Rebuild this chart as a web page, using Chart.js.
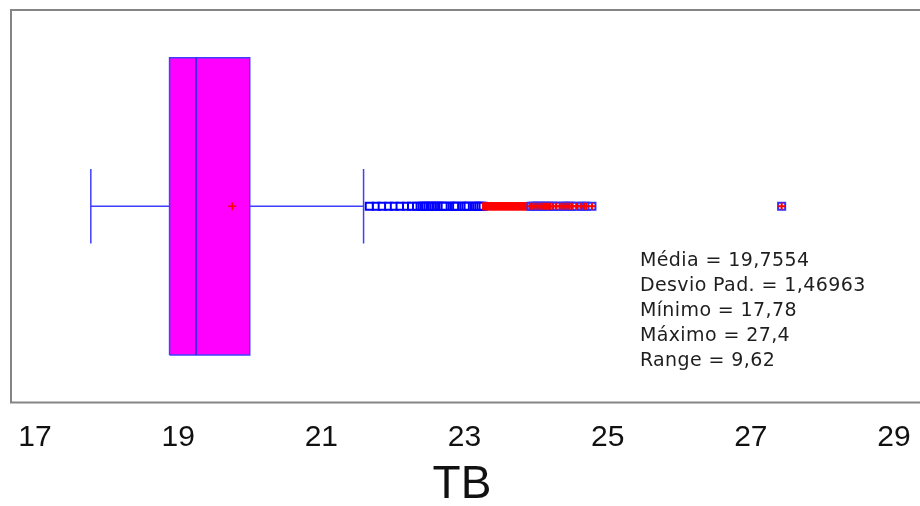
<!DOCTYPE html>
<html>
<head>
<meta charset="utf-8">
<script src="https://cdn.jsdelivr.net/npm/chart.js@4.4.0/dist/chart.umd.min.js"></script>
<style>
    html, body { margin: 0; padding: 0; background: #fff; }
    #wrap { width: 920px; height: 506px; }
</style>
</head>
<body>
<div id="wrap"><canvas id="chart"></canvas></div>
<script>
const axisTitle = "TB"
const xTicks = [17, 19, 21, 23, 25, 27, 29]

// box summary
const whiskerLow = 17.78
const q1 = 18.88
const median = 19.25
const q3 = 20.0
const whiskerHigh = 21.59
const mean = 19.7554

// outliers (blue open squares, then the red ones)
const mildOutliers = [21.67, 21.77, 21.85, 21.94, 22.02, 22.10, 22.19, 22.26, 22.33, 22.38,
    22.41, 22.44, 22.46, 22.49, 22.52, 22.54, 22.57, 22.60, 22.62, 22.65, 22.68, 22.70,
    22.73, 22.80, 22.83, 22.86, 22.89, 22.96, 22.99, 23.02, 23.05, 23.11, 23.14, 23.17,
    23.20, 23.23, 23.26]
const denseOutliers = [23.30, 23.33, 23.36, 23.39, 23.42, 23.45, 23.48, 23.51, 23.54, 23.57,
    23.60, 23.63, 23.66, 23.69, 23.72, 23.75, 23.78, 23.81, 23.84, 23.87, 23.90]
const farOutliers = [23.93, 23.96, 23.99, 24.02, 24.05, 24.08, 24.11, 24.14, 24.17, 24.20,
    24.24, 24.28, 24.33, 24.38, 24.41, 24.44, 24.47, 24.50, 24.56, 24.63, 24.67, 24.70,
    24.78, 27.43]

const statLabels = ["Média", "Desvio Pad.", "Mínimo", "Máximo", "Range"]
const statValues = ["19,7554", "1,46963", "17,78", "27,4", "9,62"]

const boxHalf = 0.757
const capHalf = 0.19
const blue = "#3f3fff"

function seg(x1, y1, x2, y2, color, width, order) {
    return {
        data: [{ x: x1, y: y1 }, { x: x2, y: y2 }],
        showLine: true,
        borderColor: color,
        borderWidth: width,
        pointRadius: 0,
        fill: false,
        order: order,
    }
}

function points(values, style) {
    return Object.assign({
        data: values.map(v => ({ x: v, y: 0 })),
        showLine: false,
    }, style)
}

const frame = {
    id: "frame",
    afterDraw(chart) {
        const { ctx, chartArea: a } = chart
        ctx.save()
        ctx.strokeStyle = "#858585"
        ctx.lineWidth = 2
        ctx.beginPath()
        ctx.moveTo(chart.width, a.top)
        ctx.lineTo(a.left, a.top)
        ctx.lineTo(a.left, a.bottom)
        ctx.lineTo(chart.width, a.bottom)
        ctx.stroke()
        ctx.restore()
    }
}

const stats = {
    id: "stats",
    afterDraw(chart) {
        const { ctx, chartArea: a } = chart
        const x = chart.scales.x.getPixelForValue(25.45)
        ctx.save()
        ctx.font = '19px "DejaVu Sans"'
        ctx.letterSpacing = "0.4px"
        ctx.fillStyle = "#1e1e1e"
        ctx.textBaseline = "middle"
        statLabels.forEach((label, i) => {
            ctx.fillText(label + " = " + statValues[i], x, a.top + 251 + i * 25)
        })
        ctx.restore()
    }
}

const datasets = [
    // box fill between top and bottom edge
    { data: [{ x: q1, y: boxHalf }, { x: q3, y: boxHalf }], showLine: true, borderWidth: 0, pointRadius: 0, fill: false, order: 10 },
    { data: [{ x: q1, y: -boxHalf }, { x: q3, y: -boxHalf }], showLine: true, borderWidth: 0, pointRadius: 0, fill: "-1", backgroundColor: "#ff00ff", order: 9 },
    {
        data: [{ x: q1, y: -boxHalf }, { x: q1, y: boxHalf }, { x: q3, y: boxHalf }, { x: q3, y: -boxHalf }, { x: q1, y: -boxHalf }],
        showLine: true, borderColor: blue, borderWidth: 1.5, pointRadius: 0, fill: false, order: 8,
    },
    seg(median, -boxHalf, median, boxHalf, "#4422ee", 2, 7),
    seg(whiskerLow, 0, q1, 0, blue, 1.5, 7),
    seg(q3, 0, whiskerHigh, 0, blue, 1.5, 7),
    seg(whiskerLow, -capHalf, whiskerLow, capHalf, blue, 1.5, 7),
    seg(whiskerHigh, -capHalf, whiskerHigh, capHalf, blue, 1.5, 7),
    points([mean], { pointStyle: "cross", pointRadius: 4, borderColor: "#ff0000", borderWidth: 1.5, order: 1 }),
    points(mildOutliers, { pointStyle: "rect", pointRadius: 5, borderColor: "#0000ff", backgroundColor: "#ffffff", borderWidth: 2, order: 5 }),
    points(denseOutliers, { pointStyle: "rect", pointRadius: 5, borderColor: "#ff0000", backgroundColor: "#ff0000", borderWidth: 1, order: 4 }),
    points(farOutliers, { pointStyle: "rect", pointRadius: 5, borderColor: "#3030ff", backgroundColor: "#ffffff", borderWidth: 2, order: 3 }),
    points(farOutliers, { pointStyle: "cross", pointRadius: 3.5, borderColor: "#ff0000", borderWidth: 2, order: 2 }),
]

new Chart(document.getElementById("chart"), {
    type: "scatter",
    data: { datasets: datasets },
    options: {
        responsive: true,
        maintainAspectRatio: false,
        animation: false,
        layout: { padding: { left: 11, top: 10, right: -6, bottom: 0 } },
        plugins: { legend: { display: false }, tooltip: { enabled: false } },
        scales: {
            x: {
                type: "linear",
                min: 16.665,
                max: 29.265,
                grid: { display: false },
                border: { display: false },
                afterBuildTicks: (scale) => { scale.ticks = xTicks.map(v => ({ value: v })) },
                ticks: {
                    padding: 9,
                    color: "#111",
                    font: { family: '"Liberation Sans", Arial', size: 30 },
                    callback: (v) => String(v),
                },
                title: {
                    display: true,
                    text: axisTitle,
                    color: "#111",
                    padding: 0,
                    font: { family: '"Liberation Sans", Arial', size: 46, lineHeight: 0.9 },
                },
            },
            y: { type: "linear", min: -1, max: 1, display: false },
        },
    },
    plugins: [frame, stats],
})
</script>
</body>
</html>
